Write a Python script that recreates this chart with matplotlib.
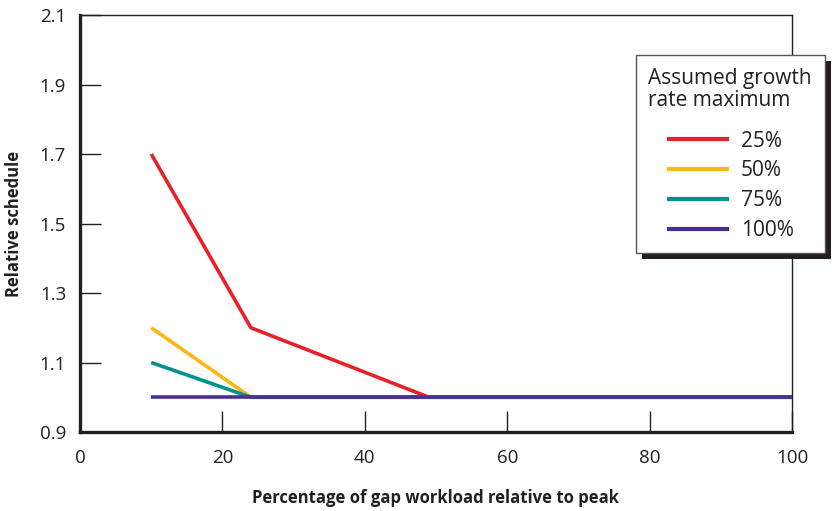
import matplotlib.pyplot as plt
from matplotlib.patches import Rectangle

plt.rcParams['font.family'] = ['Open Sans', 'DejaVu Sans']

# data
x_25 = [10, 24, 49, 100]
y_25 = [1.7, 1.2, 1.0, 1.0]
x_50 = [10, 24, 100]
y_50 = [1.2, 1.0, 1.0]
x_75 = [10, 24, 100]
y_75 = [1.1, 1.0, 1.0]
x_100 = [10, 100]
y_100 = [1.0, 1.0]

labels = ['25%', '50%', '75%', '100%']
colors = ['#E8202A', '#FDB714', '#00928F', '#4B2E91']

x_ticks = [0, 20, 40, 60, 80, 100]
y_ticks = [0.9, 1.1, 1.3, 1.5, 1.7, 1.9, 2.1]

fig = plt.figure(figsize=(8.32, 5.11), dpi=100)
ax = fig.add_axes([80 / 832, 1 - 432 / 511, 712 / 832, 417 / 511])

series = [(x_25, y_25), (x_50, y_50), (x_75, y_75), (x_100, y_100)]
for (xs, ys), lab, col in zip(series, labels, colors):
    ax.plot(xs, ys, color=col, lw=2.6, label=lab, solid_capstyle='butt')

ax.set_xlim(0, 100)
ax.set_ylim(0.9, 2.1)
ax.set_xticks(x_ticks)
ax.set_yticks(y_ticks)
ax.set_yticklabels([f'{v:.1f}' for v in y_ticks])

for s in ['left', 'bottom']:
    ax.spines[s].set_linewidth(2.4)
for s in ['top', 'right']:
    ax.spines[s].set_linewidth(1.0)
for s in ax.spines.values():
    s.set_color('#231F20')

ax.tick_params(axis='both', direction='in', length=15, width=1.0,
               color='#231F20', labelsize=13.5, labelcolor='#231F20')
ax.tick_params(axis='x', pad=12)
ax.tick_params(axis='y', pad=10)

ax.set_xlabel('Percentage of gap workload relative to peak', fontsize=12,
              fontweight='bold', labelpad=16, color='#231F20')
ax.set_ylabel('Relative schedule', fontsize=12, fontweight='bold',
              labelpad=12, color='#231F20')

leg = ax.legend(title='Assumed growth\nrate maximum', loc='upper left',
                bbox_to_anchor=(636 / 832, 1 - 55 / 511),
                bbox_transform=fig.transFigure, borderaxespad=0,
                fontsize=15, title_fontsize=15, handlelength=3.0,
                handletextpad=0.55, labelspacing=0.42, borderpad=0.6,
                fancybox=False, framealpha=1, edgecolor='#555555')
leg.get_frame().set_linewidth(1.0)
leg._legend_box.align = 'center'
leg._legend_box.sep = 14
for txt in leg.get_texts():
    txt.set_color('#231F20')
leg.get_title().set_color('#231F20')
leg.get_title().set_linespacing(1.1)
for line in leg.get_lines():
    line.set_linewidth(3.0)
leg.set_zorder(6)

# black drop shadow behind the legend box
fig.canvas.draw()
bb = leg.get_window_extent()
shadow = Rectangle((bb.x0 + 6, bb.y0 - 6), bb.width, bb.height,
                   transform=None, facecolor='#231F20', edgecolor='none',
                   zorder=5.5, clip_on=False)
ax.add_artist(shadow)

plt.savefig('out.png', dpi=100)
